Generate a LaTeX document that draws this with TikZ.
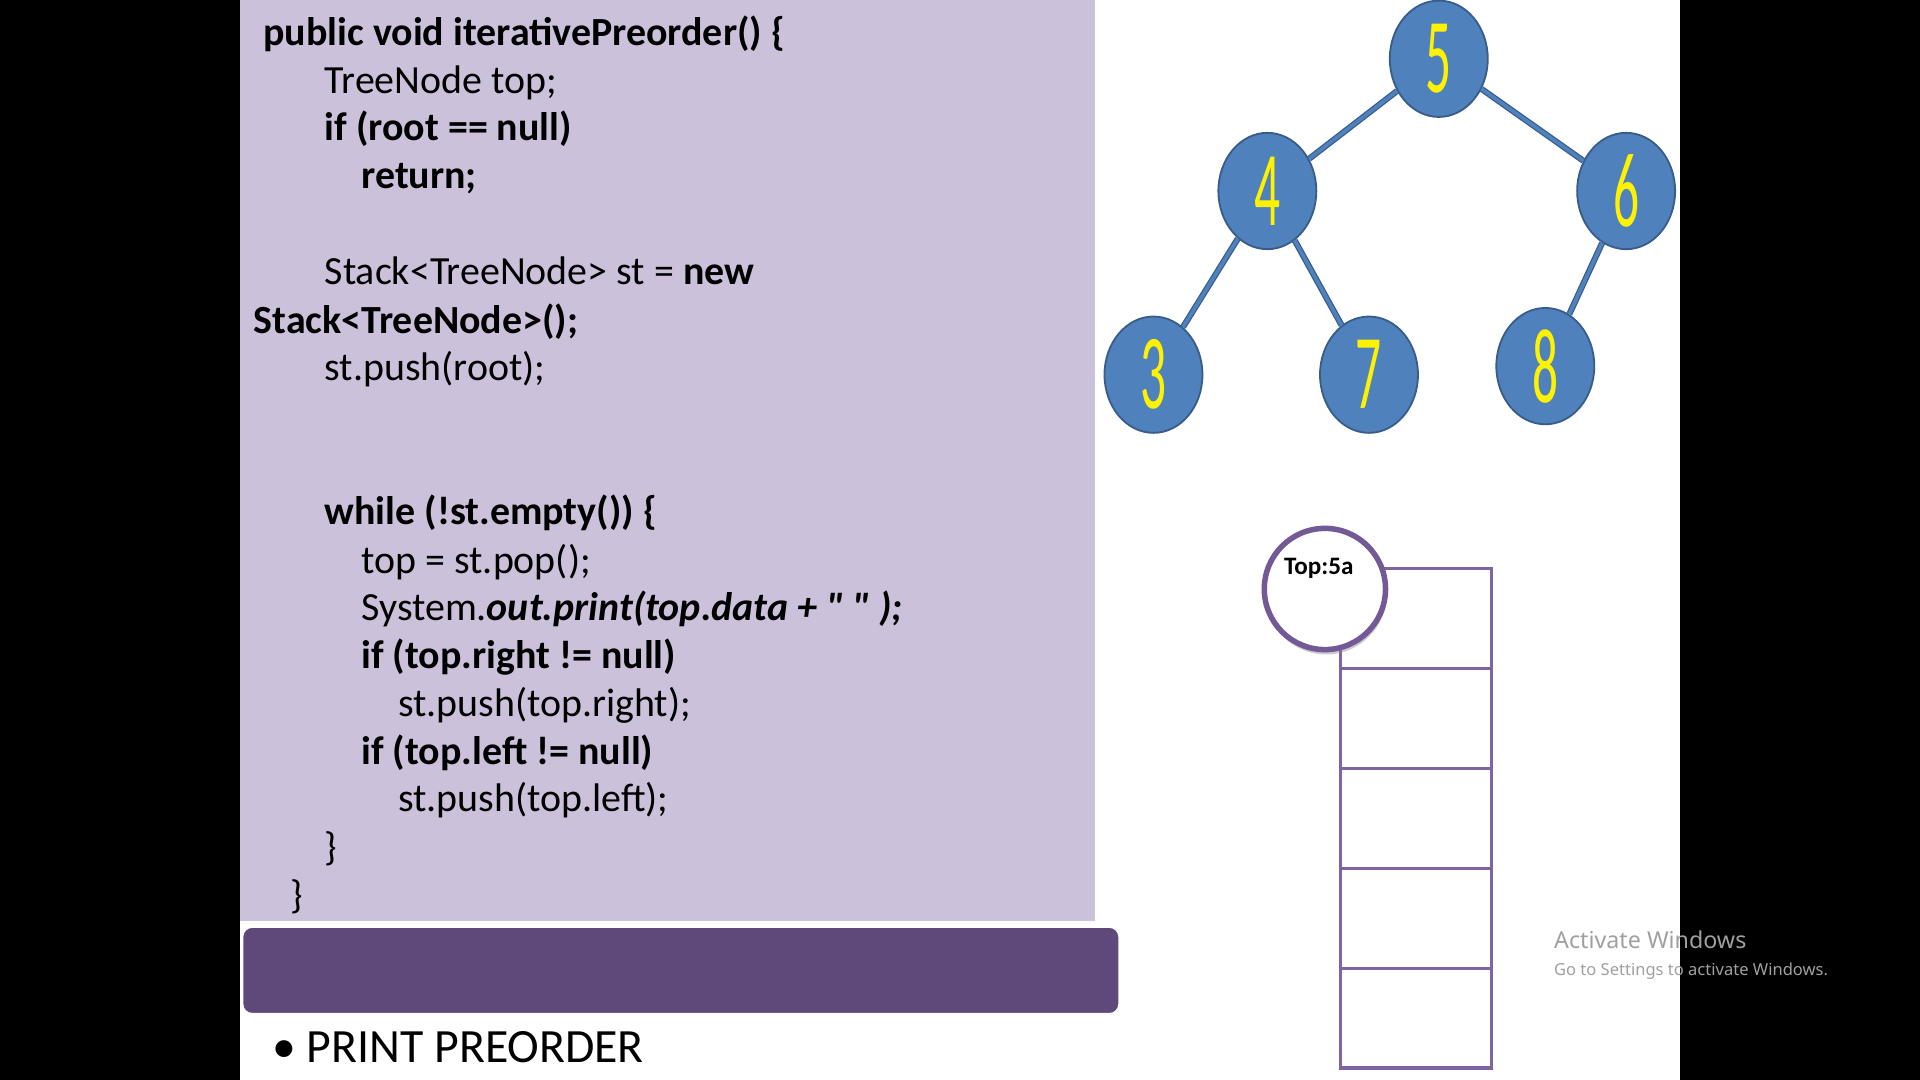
\documentclass[tikz,border=0pt]{standalone}
\usepackage{fontspec}
\usepackage{graphicx}
\usepackage{xcolor}
\usetikzlibrary{shapes.geometric, shadows, positioning}
\setmainfont{Carlito}[Ligatures=TeXOff]
\newfontfamily\winfont{Noto Sans}
\definecolor{codebg}{HTML}{CCC1DA}
\definecolor{barpurple}{HTML}{5F497A}
\definecolor{treeblue}{HTML}{4F81BD}
\definecolor{treeedge}{HTML}{385D8A}
\definecolor{stackpurple}{HTML}{8064A2}
\definecolor{circedge}{HTML}{735A96}
\definecolor{wingray}{HTML}{A0A0A0}
\newcommand{\codefont}{\fontsize{32.6}{39}\selectfont}
\newcommand{\tnum}[1]{\scalebox{0.7}[1.45]{#1}}
\tikzset{
  % code line style
  codeline/.style={
    anchor=base west
    , inner sep=0pt
    , font=\codefont
  },
}
\tikzset{
  % tree node style
  treenode/.style={
    draw=treeedge
    , fill=treeblue
    , line width=1.5pt
    , ellipse
    , minimum width=80pt
    , minimum height=95pt
    , inner sep=0pt
    , text=yellow
    , font=\fontsize{60}{60}\selectfont
  },
  % tree edge style
  tedge/.style={
    draw=treeedge
    , line width=1pt
    , double=treeblue
    , double distance=3pt
  },
  % stack cell style
  cell/.style={
    draw=stackpurple
    , line width=2.5pt
    , minimum width=123pt
    , minimum height=81.6pt
    , inner sep=0pt
  },
}

\begin{document}
\begin{tikzpicture}[x=1pt, y=-1pt, node distance=81.6pt]
      \useasboundingbox (0,0) rectangle (1568,882);
      \fill[black] (0,0) rectangle (1568,882);
      \fill[white] (196,0) rectangle (1372,882);
      \fill[codebg] (196,0) rectangle (894,752);
      \draw[white, line width=1.5pt, fill=barpurple, rounded corners=8pt] (198,757) rectangle (914,828);

      \node[codeline] (l1) at (215,37) {\textbf{public void iterativePreorder() \{}};
      \node[codeline] (l2) at (265,76) {TreeNode top;};
      \node[codeline] (l3) at (265,115) {\textbf{if (root == null)}};
      \node[codeline] (l4) at (295,154) {\textbf{return;}};
      \node[codeline] (l5) at (265,232) {Stack<TreeNode> st = \textbf{new}};
      \node[codeline] (l6) at (207,272) {\textbf{Stack<TreeNode>();}};
      \node[codeline] (l7) at (265,311) {st.push(root);};
      \node[codeline] (l8) at (265,428) {\textbf{while (!st.empty()) \{}};
      \node[codeline] (l9) at (295,468) {top = st.pop();};
      \node[codeline] (l10) at (295,507) {System.\textbf{\textit{out.print(top.data + " " );}}};
      \node[codeline] (l11) at (295,546) {\textbf{if (top.right != null)}};
      \node[codeline] (l12) at (325,585) {st.push(top.right);};
      \node[codeline] (l13) at (295,624) {\textbf{if (top.left != null)}};
      \node[codeline] (l14) at (325,663) {st.push(top.left);};
      \node[codeline] (l15) at (265,703) {\}};
      \node[codeline] (l16) at (237,742) {\}};

      \node[codeline, font=\fontsize{39}{39}\selectfont] (bul) at (222,868) {\textbullet\hspace{9pt}PRINT PREORDER};

      \node[treenode] (n5) at (1175,48) {\tnum{5}};
      \node[treenode] (n4) at (1035,156) {\tnum{4}};
      \node[treenode] (n6) at (1328,156) {\tnum{6}};
      \node[treenode] (n3) at (942,306) {\tnum{3}};
      \node[treenode] (n7) at (1118,306) {\tnum{7}};
      \node[treenode] (n8) at (1262,299) {\tnum{8}};

      \draw[tedge] (n5) -- (n4);
      \draw[tedge] (n5) -- (n6);
      \draw[tedge] (n4) -- (n3);
      \draw[tedge] (n4) -- (n7);
      \draw[tedge] (n6) -- (n8);

      \node[cell] (c1) at (1156.5,505) {};
      \node[cell, below of=c1] (c2) {};
      \node[cell, below of=c2] (c3) {};
      \node[cell, below of=c3] (c4) {};
      \node[cell, below of=c4] (c5) {};

      \node[circle, draw=circedge, fill=white, line width=4.5pt, minimum size=99pt,
        drop shadow={opacity=0.4, shadow xshift=1pt, shadow yshift=-4pt}] (topc) at (1082,481) {};
      \node[font=\fontsize{20.5}{20.5}\selectfont\bfseries, inner sep=0pt] (toplbl) at ([xshift=-5pt, yshift=17pt]topc.center) {Top:5a};

      \node[codeline, font=\winfont\fontsize{19}{19}\selectfont, text=wingray] (actw) at (1269,775) {Activate Windows};
      \node[codeline, font=\winfont\fontsize{13.5}{13.5}\selectfont, text=wingray] (gotos) at (1269,797) {Go to Settings to activate Windows.};
    \end{tikzpicture}
\end{document}
